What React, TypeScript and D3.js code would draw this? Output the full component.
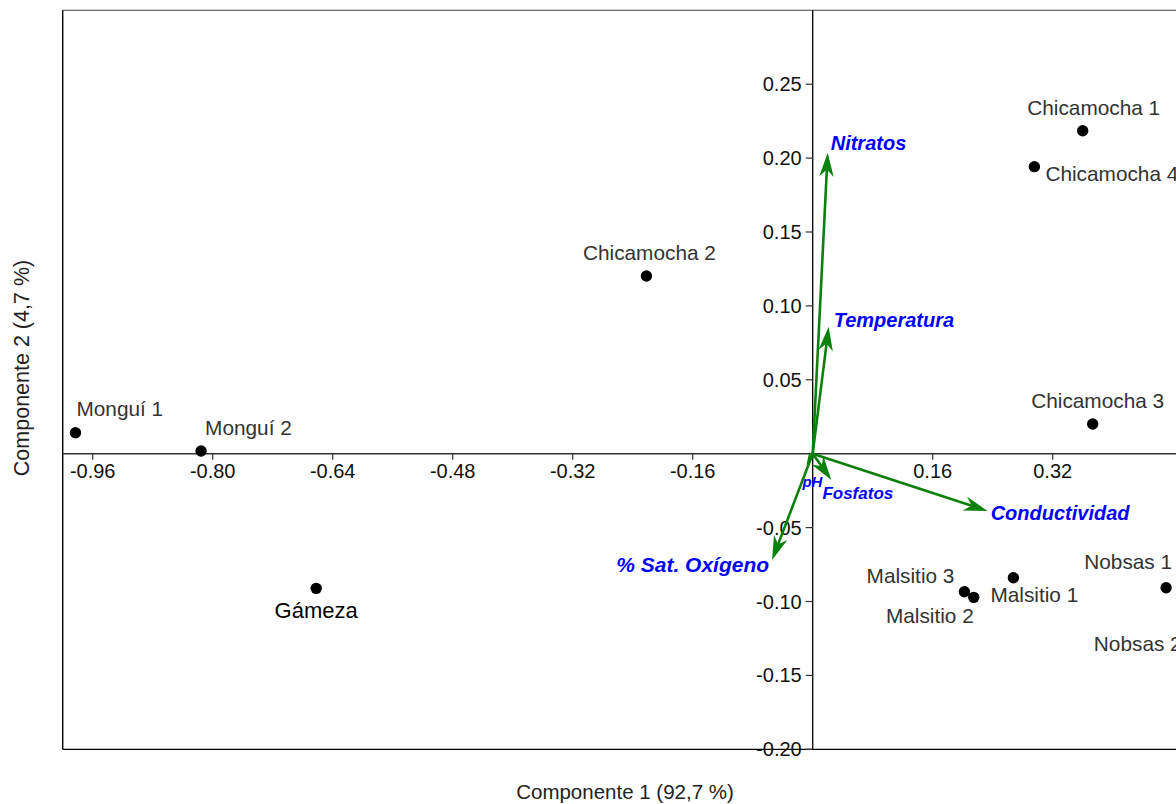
import React, { useEffect, useRef } from "react";
import * as d3 from "d3";

// sites (scores on components 1 and 2)
const sites = ["Monguí 1", "Monguí 2", "Gámeza", "Chicamocha 2", "Chicamocha 1", "Chicamocha 4", "Chicamocha 3", "Malsitio 3", "Malsitio 2", "Malsitio 1", "Nobsas 1", "Nobsas 2"];
const siteX = [-0.983, -0.8155, -0.662, -0.2217, 0.36, 0.2956, 0.3733, 0.2023, 0.2147, 0.2676, 0.4712, 0.5];
const siteY = [0.0142, 0.0018, -0.0911, 0.1202, 0.2185, 0.1942, 0.0201, -0.0934, -0.0972, -0.0839, -0.0907, -0.14];

// variables (loadings)
const variables = ["Nitratos", "Temperatura", "Conductividad", "Fosfatos", "pH", "% Sat. Oxígeno"];
const varX = [0.02, 0.0213, 0.2333, 0.0249, -0.0084, -0.0541];
const varY = [0.2037, 0.0859, -0.0388, -0.0178, -0.0076, -0.0719];

const xTicks = [-0.96, -0.8, -0.64, -0.48, -0.32, -0.16, 0.16, 0.32];
const yTicks = [-0.2, -0.15, -0.1, -0.05, 0.05, 0.1, 0.15, 0.2, 0.25];

const xTitle = "Componente 1 (92,7 %)";
const yTitle = "Componente 2 (4,7 %)";

// label placement (pixels relative to the mark)
const siteLabelPos: Record<string, [number, number, string]> = {
  "Monguí 1": [1, -17, "start"],
  "Monguí 2": [4, -16, "start"],
  "Gámeza": [0, 30, "middle"],
  "Chicamocha 2": [3, -16, "middle"],
  "Chicamocha 1": [11, -16, "middle"],
  "Chicamocha 4": [11, 14, "start"],
  "Chicamocha 3": [5, -16, "middle"],
  "Malsitio 3": [-10, -9, "end"],
  "Malsitio 2": [0, 26, "end"],
  "Malsitio 1": [-23, 24, "start"],
  "Nobsas 1": [6, -19, "end"],
  "Nobsas 2": [-6, -10, "end"],
};
const varLabelPos: Record<string, [number, number, string, number]> = {
  "Nitratos": [3, -3, "start", 20],
  "Temperatura": [5, 0, "start", 20],
  "Conductividad": [3, 9, "start", 20],
  "Fosfatos": [-9, 19, "start", 17],
  "pH": [-4, 22, "start", 15],
  "% Sat. Oxígeno": [-3, 12, "end", 21],
};

export default function App() {
  const ref = useRef<SVGSVGElement>(null);

  useEffect(() => {
    const width = 1176;
    const height = 804;
    const svg = d3.select(ref.current);
    svg.selectAll("*").remove();
    svg.attr("width", width).attr("height", height);

    const x = d3.scaleLinear().domain([-1.0, 0.5]).range([62.7, 1187.7]);
    const y = d3.scaleLinear().domain([-0.2, 0.3]).range([749.3, 10.3]);
    const font = "'Liberation Sans', Arial, sans-serif";

    // frame
    svg.append("line").attr("x1", x(-1)).attr("x2", x(-1)).attr("y1", y(0.3)).attr("y2", y(-0.2))
      .attr("stroke", "#000").attr("stroke-width", 1.4);
    svg.append("line").attr("x1", x(-1)).attr("x2", x(0.5)).attr("y1", y(0.3)).attr("y2", y(0.3))
      .attr("stroke", "#444").attr("stroke-width", 1.1);
    svg.append("line").attr("x1", x(-1)).attr("x2", x(0.5)).attr("y1", y(-0.2)).attr("y2", y(-0.2))
      .attr("stroke", "#000").attr("stroke-width", 1.3);

    // zero axes
    svg.append("line").attr("x1", x(-1)).attr("x2", x(0.5)).attr("y1", y(0)).attr("y2", y(0))
      .attr("stroke", "#333").attr("stroke-width", 1.5);
    svg.append("line").attr("x1", x(0)).attr("x2", x(0)).attr("y1", y(0.3)).attr("y2", y(-0.2))
      .attr("stroke", "#000").attr("stroke-width", 1.3);

    // x ticks
    const xt = svg.append("g");
    xt.selectAll("line").data(xTicks).enter().append("line")
      .attr("x1", (d) => x(d)).attr("x2", (d) => x(d))
      .attr("y1", y(0)).attr("y2", y(0) + 6)
      .attr("stroke", "#333").attr("stroke-width", 1.2);
    xt.selectAll("text").data(xTicks).enter().append("text")
      .attr("x", (d) => x(d)).attr("y", y(0) + 24)
      .attr("text-anchor", "middle")
      .style("font-family", font).style("font-size", "20px").attr("fill", "#111")
      .text((d) => d3.format(".2f")(d).replace("−", "-"));

    // y ticks
    const yt = svg.append("g");
    yt.selectAll("line").data(yTicks).enter().append("line")
      .attr("x1", x(0) - 7).attr("x2", x(0))
      .attr("y1", (d) => y(d)).attr("y2", (d) => y(d))
      .attr("stroke", "#333").attr("stroke-width", 1.2);
    yt.selectAll("text").data(yTicks).enter().append("text")
      .attr("x", x(0) - 11).attr("y", (d) => y(d) + 7)
      .attr("text-anchor", "end")
      .style("font-family", font).style("font-size", "20px").attr("fill", "#111")
      .text((d) => d3.format(".2f")(d).replace("−", "-"));

    // axis titles
    svg.append("text").attr("x", 625).attr("y", 799).attr("text-anchor", "middle")
      .style("font-family", font).style("font-size", "20.5px").attr("fill", "#222").text(xTitle);
    svg.append("text").attr("transform", "translate(29,368) rotate(-90)").attr("text-anchor", "middle")
      .style("font-family", font).style("font-size", "21.5px").attr("fill", "#222").text(yTitle);

    // variable arrows
    const green = "#0b800b";
    const ag = svg.append("g");
    variables.forEach((v, i) => {
      const x0 = x(0), y0 = y(0);
      const x1 = x(varX[i]), y1 = y(varY[i]);
      const len = Math.hypot(x1 - x0, y1 - y0);
      const ang = Math.atan2(y1 - y0, x1 - x0);
      const L = Math.min(24, len);
      const W = L * 0.6;
      const notch = L * 0.7;
      ag.append("line")
        .attr("x1", x0).attr("y1", y0)
        .attr("x2", x1 - Math.cos(ang) * notch).attr("y2", y1 - Math.sin(ang) * notch)
        .attr("stroke", green).attr("stroke-width", 2.6);
      ag.append("path")
        .attr("d", `M0,0 L${-L},${-W / 2} L${-notch},0 L${-L},${W / 2} Z`)
        .attr("transform", `translate(${x1},${y1}) rotate(${(ang * 180) / Math.PI})`)
        .attr("fill", green);
      const [dx, dy, anchor, fs] = varLabelPos[v];
      ag.append("text")
        .attr("x", x1 + dx).attr("y", y1 + dy)
        .attr("text-anchor", anchor)
        .style("font-family", font).style("font-size", fs + "px")
        .style("font-weight", "bold").style("font-style", "italic")
        .attr("fill", "#0000ff")
        .text(v);
    });

    // site points
    const pg = svg.append("g");
    pg.selectAll("circle").data(sites).enter().append("circle")
      .attr("cx", (d, i) => x(siteX[i])).attr("cy", (d, i) => y(siteY[i]))
      .attr("r", 5.7).attr("fill", "#000");
    pg.selectAll("text").data(sites).enter().append("text")
      .attr("x", (d, i) => x(siteX[i]) + siteLabelPos[d][0])
      .attr("y", (d, i) => y(siteY[i]) + siteLabelPos[d][1])
      .attr("text-anchor", (d) => siteLabelPos[d][2])
      .style("font-family", font)
      .style("font-size", (d) => (d === "Gámeza" ? "22px" : "20.8px"))
      .attr("fill", (d) => (d === "Gámeza" ? "#000" : "#333"))
      .text((d) => d);
  }, []);

  return (
    <div style={{ position: "absolute", left: 0, top: 0, background: "#fff" }}>
      <svg ref={ref} style={{ display: "block", background: "#fff" }} />
    </div>
  );
}
